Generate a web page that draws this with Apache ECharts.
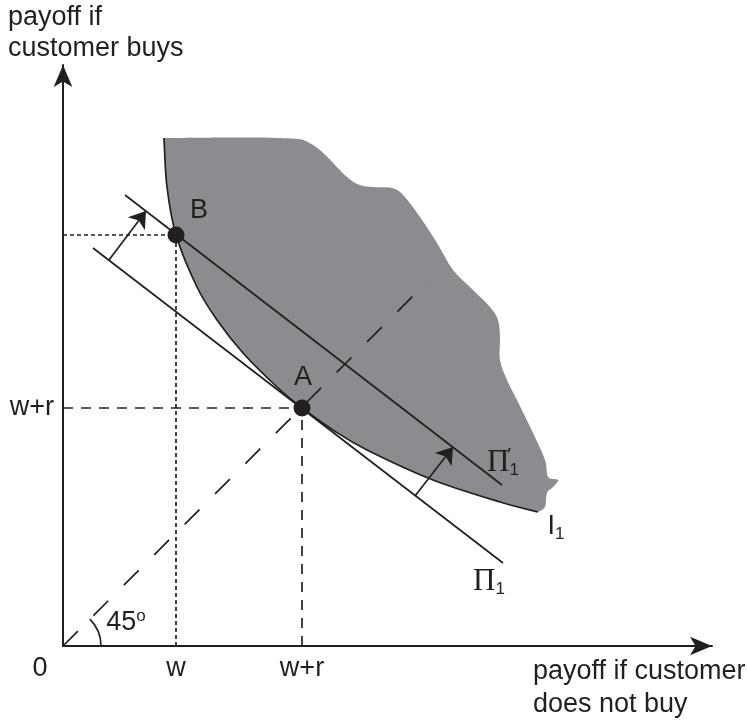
<!DOCTYPE html>
<html><head><meta charset="utf-8">
<script src="https://cdn.jsdelivr.net/npm/echarts@6/dist/echarts.min.js"></script>
<style>html,body{margin:0;padding:0;background:#fff}#c{width:747px;height:721px}</style>
</head><body><div id="c"></div>
<script>
// ---- data (abstract diagram units) ----
const indifferenceI1 = [[101,508],[104,459],[113,411],[134,359],[154,326],[180,293],[214,259],[239,238],[270,216],[304,196],[370,166],[437,144],[475,134]];
const regionEdge = [[475,134],[482,139],[484,153],[490,159],[495,166],[485,169],[482,186],[470,213],[454,246],[444,266],[437,286],[437,309],[435,326],[427,339],[410,356],[390,376],[374,403],[357,429],[340,451],[329,458],[310,459],[297,461],[284,469],[250,501],[217,508],[101,508]];
const profitPi1 = [[30,398],[440,83]];
const profitPi1Prime = [[62,451],[439,161]];
const line45 = [[0,0],[365,365]];
const pointA = [239,238];
const pointB = [113,411];
const shiftArrows = [[[46,386],[83,435]],[[352,150],[390,199]]];
const xTickValues = [0, pointB[0], pointA[0]];
const xTickLabels = ['0','w','w+r'];
const yTickValues = [pointA[1]];
const yTickLabels = ['w+r'];

const INK = '#231f20';
const GRAY = '#8b8c8f';
const SANS = '"Liberation Sans", Arial, Helvetica, sans-serif';
const SERIF = '"Liberation Serif", "Times New Roman", serif';
const FS = 27;

function crPath(pts, moveTo) {
  let d = moveTo ? 'M' + pts[0][0] + ' ' + pts[0][1] : '';
  for (let i = 0; i < pts.length - 1; i++) {
    const p0 = pts[Math.max(i-1,0)], p1 = pts[i], p2 = pts[i+1], p3 = pts[Math.min(i+2, pts.length-1)];
    const c1 = [p1[0] + (p2[0]-p0[0])/6, p1[1] + (p2[1]-p0[1])/6];
    const c2 = [p2[0] - (p3[0]-p1[0])/6, p2[1] - (p3[1]-p1[1])/6];
    d += ' C' + c1.join(' ') + ' ' + c2.join(' ') + ' ' + p2.join(' ');
  }
  return d;
}

const chart = echarts.init(document.getElementById('c'));
const piRich = {
  p: {fontFamily: SERIF, fontSize: 31, color: INK},
  q: {fontFamily: SERIF, fontSize: 22, color: INK, width: 0, padding: [0,0,14,0]},
  s: {fontFamily: SANS, fontSize: 17, color: INK, padding: [14,0,0,0]},
  i: {fontFamily: SANS, fontSize: FS, color: INK},
  n: {fontFamily: SANS, fontSize: FS, color: INK},
  o: {fontFamily: SANS, fontSize: 17, color: INK, padding: [0,0,14,0]}
};

const option = {
  animation: false,
  backgroundColor: '#fff',
  grid: {left: 63, top: 65, width: 649, height: 581},
  xAxis: {
    type: 'value', min: 0, max: 649,
    splitLine: {show: false}, axisTick: {show: false},
    axisLine: {show: true, onZero: false, symbol: ['none','arrow'], symbolSize: [14,22], lineStyle: {color: INK, width: 2}},
    axisLabel: {
      customValues: xTickValues, color: INK, fontFamily: SANS, fontSize: FS, margin: 9,
      formatter: v => { const i = xTickValues.indexOf(v); return i === 0 ? '{z|0}' : (xTickLabels[i] || ''); },
      rich: {z: {fontFamily: SANS, fontSize: FS, color: INK, padding: [0,46,0,0]}}
    }
  },
  yAxis: {
    type: 'value', min: 0, max: 581,
    splitLine: {show: false}, axisTick: {show: false},
    axisLine: {show: true, onZero: false, symbol: ['none','arrow'], symbolSize: [14,22], lineStyle: {color: INK, width: 2}},
    axisLabel: {
      customValues: yTickValues, color: INK, fontFamily: SANS, fontSize: FS, margin: 9,
      formatter: v => { const i = yTickValues.indexOf(v); return i >= 0 ? yTickLabels[i] : ''; }
    }
  },
  graphic: [
    {type: 'text', left: 8, top: 2, style: {text: 'payoff if\ncustomer buys', font: FS + 'px ' + SANS, fill: INK, lineHeight: 31}},
    {type: 'text', left: 533, top: 655, style: {text: 'payoff if customer\ndoes not buy', font: FS + 'px ' + SANS, fill: INK, lineHeight: 33}}
  ],
  series: [
    {
      type: 'custom', z: 1, silent: true, data: [0],
      renderItem: (params, api) => {
        const curve = indifferenceI1.map(p => api.coord(p));
        const edge = regionEdge.map(p => api.coord(p));
        const fill = crPath(curve, true) + crPath(edge, false) + ' Z';
        return {type: 'group', children: [
          {type: 'path', shape: {pathData: fill}, style: {fill: GRAY, stroke: 'none'}},
          {type: 'path', shape: {pathData: crPath(curve, true)}, style: {fill: 'none', stroke: INK, lineWidth: 1.7}}
        ]};
      }
    },
    {
      type: 'custom', z: 2, silent: true, data: [0],
      renderItem: (params, api) => {
        const o = api.coord([0,0]);
        return {type: 'arc', shape: {cx: o[0], cy: o[1], r: 38, startAngle: -Math.PI/4, endAngle: 0, clockwise: true},
                style: {stroke: INK, fill: 'none', lineWidth: 1.7}};
      }
    },
    {type: 'line', z: 2, data: line45, symbol: 'none', lineStyle: {color: INK, width: 1.7, type: [21,22]}},
    {type: 'line', z: 2, data: [[0,pointB[1]], pointB], symbol: 'none', lineStyle: {color: INK, width: 1.7, type: [4,3]}},
    {type: 'line', z: 2, data: [[pointB[0],0], pointB], symbol: 'none', lineStyle: {color: INK, width: 1.7, type: [4,3]}},
    {type: 'line', z: 2, data: [[0,pointA[1]], pointA], symbol: 'none', lineStyle: {color: INK, width: 1.7, type: [10,8]}},
    {type: 'line', z: 2, data: [[pointA[0],0], pointA], symbol: 'none', lineStyle: {color: INK, width: 1.7, type: [10,8]}},
    {type: 'line', z: 3, data: profitPi1, symbol: 'none', lineStyle: {color: INK, width: 1.7}},
    {type: 'line', z: 3, data: profitPi1Prime, symbol: 'none', lineStyle: {color: INK, width: 1.7}},
    {type: 'lines', z: 3, coordinateSystem: 'cartesian2d', data: shiftArrows.map(c => ({coords: c})),
     symbol: ['none','arrow'], symbolSize: [11,16], lineStyle: {color: INK, width: 1.7, opacity: 1}},
    {type: 'scatter', z: 5, data: [pointA, pointB], symbolSize: 17, itemStyle: {color: INK, opacity: 1}},
    {
      type: 'scatter', z: 6, symbolSize: 0, silent: true, itemStyle: {opacity: 1},
      label: {show: true, position: 'inside', color: INK, fontFamily: SANS, fontSize: FS, rich: piRich},
      data: [
        {value: pointA, label: {formatter: 'A', offset: [1,-30]}},
        {value: pointB, label: {formatter: 'B', offset: [23,-24]}},
        {value: profitPi1[1], label: {formatter: '{p|Π}{s|1}', offset: [-14,19]}},
        {value: profitPi1Prime[1], label: {formatter: '{p|Π}{q|′}{s|1}', offset: [1,-22]}},
        {value: indifferenceI1[indifferenceI1.length-1], label: {formatter: '{i|I}{s|1}', offset: [18,15]}},
        {value: [0,0], label: {formatter: '{n|45}{o|o}', offset: [63,-23]}}
      ]
    }
  ]
};
chart.setOption(option);
</script>
</body></html>
